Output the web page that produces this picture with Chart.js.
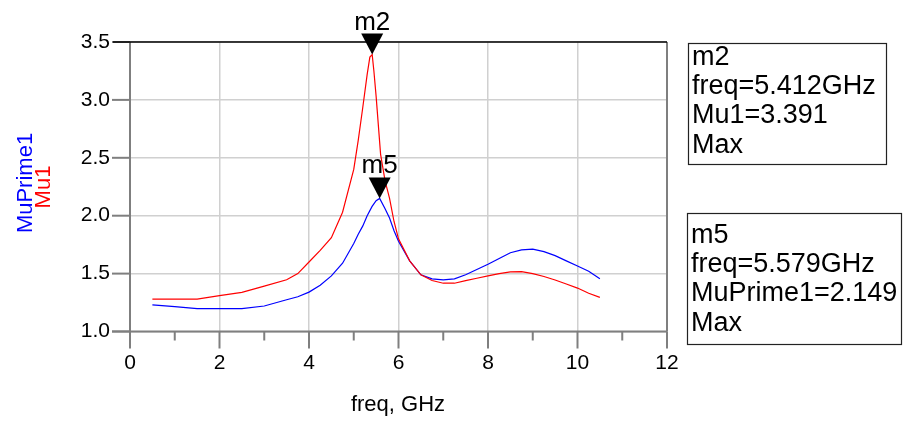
<!DOCTYPE html>
<html>
<head>
<meta charset="utf-8">
<script src="https://cdn.jsdelivr.net/npm/chart.js@4"></script>
<style>
  html, body { margin: 0; padding: 0; background: #fff; }
  #wrap { width: 903px; height: 422px; position: relative; }
</style>
</head>
<body>
<div id="wrap"><canvas id="mu-chart"></canvas></div>
<script>
// Mu1 (red)
const freqMu1 = [0.5, 1.0, 1.5, 2.0, 2.5, 3.0, 3.5, 3.75, 4.0, 4.25, 4.5, 4.75, 5.0, 5.1, 5.2, 5.3, 5.36, 5.412,
  5.45, 5.5, 5.6, 5.7, 5.8, 5.9, 6.0, 6.25, 6.5, 6.75, 7.0, 7.25, 7.5, 7.75, 8.0, 8.25, 8.5, 8.75, 9.0, 9.25,
  9.5, 9.75, 10.0, 10.25, 10.5];
const mu1 = [1.28, 1.28, 1.28, 1.31, 1.338, 1.392, 1.447, 1.50, 1.60, 1.70, 1.81, 2.03, 2.40, 2.65, 2.93, 3.22, 3.37, 3.391,
  3.25, 3.03, 2.53, 2.30, 2.15, 1.95, 1.80, 1.61, 1.49, 1.44, 1.417, 1.417, 1.44, 1.46, 1.48, 1.50, 1.515, 1.517, 1.50, 1.475,
  1.445, 1.41, 1.375, 1.33, 1.295];

// MuPrime1 (blue)
const freqMuPrime1 = [0.5, 1.0, 1.5, 2.0, 2.5, 3.0, 3.5, 3.75, 4.0, 4.25, 4.5, 4.75, 5.0, 5.1, 5.2, 5.3, 5.41,
  5.5, 5.579, 5.7, 5.8, 5.9, 6.0, 6.25, 6.5, 6.75, 7.0, 7.25, 7.5, 7.75, 8.0, 8.25, 8.5, 8.75, 9.0, 9.25,
  9.5, 9.75, 10.0, 10.25, 10.5];
const muPrime1 = [1.23, 1.215, 1.198, 1.198, 1.198, 1.22, 1.274, 1.30, 1.34, 1.40, 1.48, 1.59, 1.76, 1.84, 1.91, 2.00, 2.08,
  2.13, 2.149, 2.06, 1.98, 1.87, 1.78, 1.61, 1.49, 1.455, 1.446, 1.455, 1.49, 1.535, 1.58, 1.63, 1.68, 1.705, 1.712, 1.69,
  1.655, 1.61, 1.565, 1.52, 1.455];

const xTicks = [0, 2, 4, 6, 8, 10, 12];
const yTicks = [1.0, 1.5, 2.0, 2.5, 3.0, 3.5];

// markers: name, freq, value, readout lines
const markerNames = ['m2', 'm5'];
const markerFreq = [5.412, 5.579];
const markerValue = [3.391, 2.149];
const markerText = [
  ['m2', 'freq=5.412GHz', 'Mu1=3.391', 'Max'],
  ['m5', 'freq=5.579GHz', 'MuPrime1=2.149', 'Max']
];

const FONT = '"Liberation Sans", Arial, sans-serif';
const AXIS_GRAY = '#7f7f7f';

const adsPlugin = {
  id: 'adsDecor',
  afterDatasetsDraw(chart) {
    const ctx = chart.ctx;
    const xs = chart.scales.x, ys = chart.scales.y;
    const a = chart.chartArea;
    ctx.save();

    // axes frame
    ctx.strokeStyle = AXIS_GRAY;
    ctx.lineWidth = 2;
    ctx.beginPath();
    ctx.moveTo(a.left, a.top); ctx.lineTo(a.left, a.bottom);
    ctx.moveTo(a.left - 18, a.bottom); ctx.lineTo(a.right, a.bottom);
    ctx.moveTo(a.right, a.top); ctx.lineTo(a.right, a.bottom);
    ctx.stroke();

    // x tick marks, long on labelled values, short between
    for (let v = 0; v <= 12; v++) {
      const px = xs.getPixelForValue(v);
      ctx.beginPath();
      ctx.moveTo(px, a.bottom);
      ctx.lineTo(px, a.bottom + (v % 2 === 0 ? 17 : 9));
      ctx.stroke();
    }
    // y tick marks
    yTicks.forEach(v => {
      const py = ys.getPixelForValue(v);
      ctx.beginPath();
      ctx.moveTo(a.left - 18, py);
      ctx.lineTo(a.left, py);
      ctx.stroke();
    });

    // top line is black
    ctx.strokeStyle = '#000';
    ctx.lineWidth = 1.5;
    ctx.beginPath();
    ctx.moveTo(a.left - 17, a.top); ctx.lineTo(a.right, a.top);
    ctx.stroke();

    // marker triangles + names
    ctx.fillStyle = '#000';
    ctx.font = '26px ' + FONT;
    ctx.textAlign = 'center';
    ctx.textBaseline = 'alphabetic';
    markerNames.forEach((name, i) => {
      const px = xs.getPixelForValue(markerFreq[i]);
      const py = ys.getPixelForValue(markerValue[i]);
      ctx.beginPath();
      ctx.moveTo(px, py);
      ctx.lineTo(px - 11, py - 21);
      ctx.lineTo(px + 11, py - 21);
      ctx.closePath();
      ctx.fill();
      ctx.fillText(name, px, py - 25);
    });

    // y axis titles
    ctx.font = '22px ' + FONT;
    ctx.fillStyle = '#0000ff';
    ctx.save();
    ctx.translate(32, 183);
    ctx.rotate(-Math.PI / 2);
    ctx.fillText('MuPrime1', 0, 0);
    ctx.restore();
    ctx.fillStyle = '#ff0000';
    ctx.save();
    ctx.translate(50, 187);
    ctx.rotate(-Math.PI / 2);
    ctx.fillText('Mu1', 0, 0);
    ctx.restore();

    // x axis title
    ctx.fillStyle = '#000';
    ctx.fillText('freq, GHz', 398, 411);

    // marker readout boxes
    const boxes = [[688, 43, 198, 121, 65], [687, 213, 214, 131, 243]];
    ctx.font = '27px ' + FONT;
    ctx.textAlign = 'left';
    boxes.forEach((b, i) => {
      ctx.strokeStyle = '#222';
      ctx.lineWidth = 1.2;
      ctx.strokeRect(b[0] + 0.5, b[1] + 0.5, b[2], b[3]);
      markerText[i].forEach((t, k) => {
        ctx.fillText(t, b[0] + 4, b[4] + k * 29.2);
      });
    });

    ctx.restore();
  }
};

const ctx = document.getElementById('mu-chart').getContext('2d');
new Chart(ctx, {
  type: 'scatter',
  data: {
    datasets: [
      {
        label: 'Mu1',
        data: freqMu1.map((f, i) => ({ x: f, y: mu1[i] })),
        showLine: true,
        borderColor: '#ff0000',
        borderWidth: 1.2,
        pointRadius: 0,
        tension: 0
      },
      {
        label: 'MuPrime1',
        data: freqMuPrime1.map((f, i) => ({ x: f, y: muPrime1[i] })),
        showLine: true,
        borderColor: '#0000ff',
        borderWidth: 1.2,
        pointRadius: 0,
        tension: 0
      }
    ]
  },
  options: {
    responsive: true,
    maintainAspectRatio: false,
    animation: false,
    events: [],
    layout: { padding: { left: 0, top: 42, right: 236, bottom: 0 } },
    plugins: { legend: { display: false }, tooltip: { enabled: false } },
    scales: {
      x: {
        type: 'linear',
        min: 0,
        max: 12,
        afterFit: s => { s.height = 90.5; },
        afterBuildTicks: s => { s.ticks = xTicks.map(v => ({ value: v })); },
        ticks: { font: { family: FONT, size: 21 }, color: '#000', padding: 19 },
        grid: { color: '#d0d0d0', lineWidth: 1.5, drawTicks: false },
        border: { display: false }
      },
      y: {
        min: 1,
        max: 3.5,
        afterFit: s => { s.width = 130; },
        afterBuildTicks: s => { s.ticks = yTicks.map(v => ({ value: v })); },
        ticks: {
          font: { family: FONT, size: 21 }, color: '#000', padding: 20,
          callback: v => Number(v).toFixed(1)
        },
        grid: { color: '#d0d0d0', lineWidth: 1.5, drawTicks: false },
        border: { display: false }
      }
    }
  },
  plugins: [adsPlugin]
});
</script>
</body>
</html>
